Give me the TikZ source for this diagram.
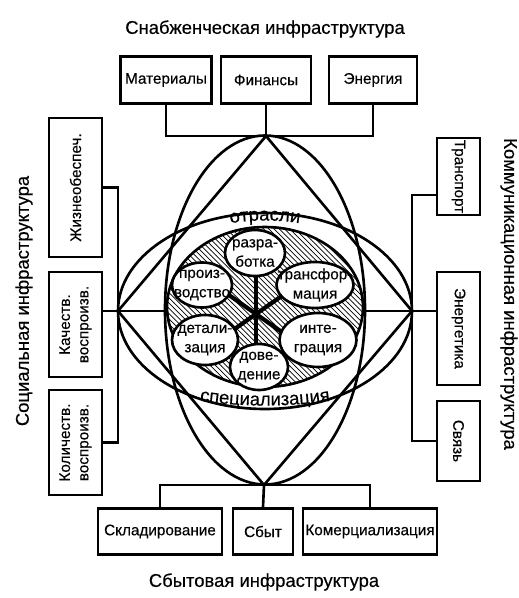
\documentclass[tikz,border=0pt]{standalone}
\usepackage{fontspec}
\setmainfont{Liberation Sans}[FakeBold=0.3]
\usetikzlibrary{shapes.geometric,patterns,decorations.text}

\newcommand{\ringfont}{\fontsize{10.5}{12}\selectfont}

\begin{document}
\begin{tikzpicture}
    [x=0.02cm, y=-0.02cm,
    line width=1.5pt,
    box/.style={draw, line width=1.5pt, align=center, inner sep=1pt, font=\fontsize{8.7}{10.5}\selectfont},
    hbox/.style={box, minimum height=0.93cm},
    lbox/.style={box, rotate=90, minimum height=1.06cm},
    rbox/.style={box, rotate=-90, minimum height=0.86cm},
    blob/.style={ellipse, draw, fill=white, inner sep=0pt},
    blobtext/.style={align=center, inner sep=0pt, font=\fontsize{8.7}{11}\selectfont},
    headline/.style={font=\fontsize{10.5}{12}\selectfont},
    arm/.style={line width=2.4pt}]
    \useasboundingbox (0,0) rectangle (519,598);

        %% Apexes
    \coordinate (T) at (266,136);
    \coordinate (B) at (264,485);
    \coordinate (L) at (118,311);
    \coordinate (R) at (412,311);
    \coordinate (S) at (256,314);
    \coordinate (Rt) at (412,195);

        %% Headlines
    \node[headline] (tsnab) at (265,29) {Снабженческая инфраструктура};
    \node[headline, rotate=90] (tsoc) at (24,301) {Социальная инфраструктура};
    \node[headline, rotate=-90] (tkomm) at (509,294) {Коммуникационная инфраструктура};
    \node[headline] (tsbyt) at (264,582) {Сбытовая инфраструктура};

        %% Supply
    \node[hbox, minimum width=1.82cm] (mat) at (166,80) {Материалы};
    \node[hbox, minimum width=1.80cm] (fin) at (266,80) {Финансы};
    \node[hbox, minimum width=1.76cm] (ene) at (373,80) {Энергия};

        %% Social
    \node[lbox, minimum width=2.78cm] (zhiz) at (75.5,187.5) {Жизнеобеспеч.};
    \node[lbox, minimum width=2.1cm] (kach) at (75.5,324.5) {Качеств.\\воспроизв.};
    \node[lbox, minimum width=2.1cm] (kol) at (75.5,442.5) {Количеств.\\воспроизв.};

        %% Communication
    \node[rbox, minimum width=1.54cm] (tran) at (458.5,176.5) {Транспорт};
    \node[rbox, minimum width=2.26cm] (energ) at (458.5,328.5) {Энергетика};
    \node[rbox, minimum width=1.6cm] (svyaz) at (458.5,441) {Связь};

        %% Sales
    \node[hbox, minimum width=2.48cm] (sklad) at (160,531.5) {Складирование};
    \node[hbox, minimum width=1.2cm] (sbyt) at (263,531.5) {Сбыт};
    \node[hbox, minimum width=2.68cm] (komer) at (370,531.5) {Комерциализация};

        %% Connectors
    \draw (mat.south) |- (T) -| (ene.south);
    \draw (fin.south) -- (T);
    \draw (zhiz.south) -| (L);
    \draw (kol.south) -| (L);
    \draw (kach.south |- L) -- (L);
    \draw (tran.south |- Rt) -| (R);
    \draw (svyaz.south) -| (R);
    \draw (energ.south |- R) -- (R);
    \draw (sklad.north) |- (B) -| (komer.north);
    \draw (sbyt.north) -- (B);

        %% Big figures
    \draw (265,310) ellipse [x radius=100, y radius=174.5];
    \draw (265,311) ellipse [x radius=147, y radius=98];
    \draw (T) -- (L) -- (B) -- (R) -- cycle;

        %% Core
    \node[ellipse, draw, minimum width=3.92cm, minimum height=3.2cm,
        preaction={fill=white}, pattern=north west lines] (core) at (265,307) {};
    \draw (L) -- (L -| core.west);
    \draw (R) -- (R -| core.east);
    \path[decorate, decoration={text along path, text align=center,
        text={|\ringfont|отрасли}}] (222,225) .. controls (248,219) and (282,219) .. (308,225);
    \path[decorate, decoration={text along path, text align=center,
        text={|\ringfont|специализация}}] (185,398) .. controls (230,408) and (300,408) .. (345,398);

    \foreach \a in {90,35,145}
        \draw[arm] (S) ++(\a:38) -- ++(\a+180:76);

    \node[blob, minimum width=1.2cm, minimum height=0.92cm] (razr) at (255,253) {};
    \node[blob, minimum width=1.2cm, minimum height=0.9cm] (proiz) at (202,285) {};
    \node[blob, minimum width=1.54cm, minimum height=0.92cm] (trans) at (315,285) {};
    \node[blob, minimum width=1.32cm, minimum height=1.0cm] (detal) at (205,340) {};
    \node[blob, minimum width=1.54cm, minimum height=1.08cm] (integr) at (318,340) {};
    \node[blob, minimum width=1.16cm, minimum height=0.92cm] (doved) at (259,367) {};

    \node[blobtext] (razr-t) at (razr) {разра-\\ботка};
    \node[blobtext] (proiz-t) at (proiz) {произ-\\водство};
    \node[blobtext] (trans-t) at (trans) {трансфор-\\мация};
    \node[blobtext] (detal-t) at (detal) {детали-\\зация};
    \node[blobtext] (integr-t) at (integr) {инте-\\грация};
    \node[blobtext] (doved-t) at (doved) {дове-\\дение};
\end{tikzpicture}
\end{document}
